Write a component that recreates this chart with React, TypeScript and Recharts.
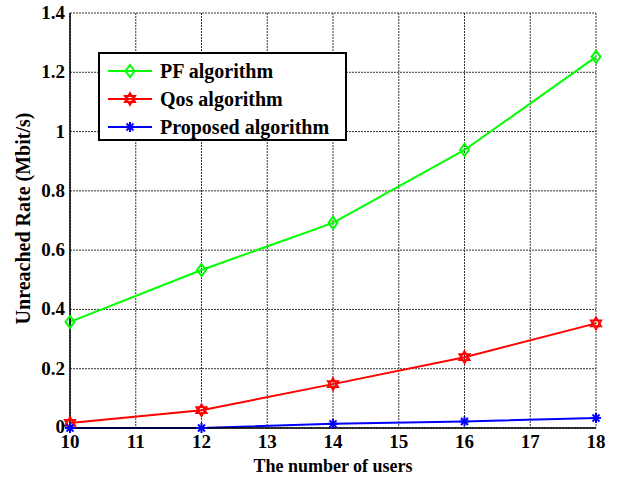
import React from 'react';
import {
  LineChart, Line, XAxis, YAxis, CartesianGrid
} from 'recharts';

// valores
const users = [10, 12, 14, 16, 18];
const pfRate = [0.358, 0.533, 0.692, 0.938, 1.252];
const qosRate = [0.017, 0.06, 0.148, 0.239, 0.353];
const proposedRate = [0, 0, 0.014, 0.022, 0.034];

const xTicks = [10, 11, 12, 13, 14, 15, 16, 17, 18];
const yTicks = [0, 0.2, 0.4, 0.6, 0.8, 1, 1.2, 1.4];

const seriesNames = ['PF algorithm', 'Qos algorithm', 'Proposed algorithm'];

const COLORS = {
  pf: '#00FF00',
  qos: '#FF0000',
  proposed: '#0000FF'
};

const FONT = '"Liberation Serif", "Times New Roman", serif';

const data = users.map((u, i) => ({
  users: u,
  pf: pfRate[i],
  qos: qosRate[i],
  proposed: proposedRate[i]
}));

// Marcadores estilo MATLAB
const Diamond = ({ cx, cy, color }: any) => (
  <polygon
    points={`${cx},${cy - 6} ${cx + 4.5},${cy} ${cx},${cy + 6} ${cx - 4.5},${cy}`}
    fill="none" stroke={color} strokeWidth={2}
  />
);

const Hexagram = ({ cx, cy, color }: any) => {
  const r = 6;
  const tri = (start: number) => [0, 120, 240].map(a => {
    const rad = ((start + a) * Math.PI) / 180;
    return `${cx + r * Math.cos(rad)},${cy + r * Math.sin(rad)}`;
  }).join(' ');
  return (
    <g>
      <polygon points={tri(-90)} fill="none" stroke={color} strokeWidth={1.8} />
      <polygon points={tri(90)} fill="none" stroke={color} strokeWidth={1.8} />
    </g>
  );
};

const Asterisk = ({ cx, cy, color }: any) => {
  const r = 5;
  const d = r * 0.7;
  return (
    <g stroke={color} strokeWidth={2}>
      <line x1={cx - r} y1={cy} x2={cx + r} y2={cy} />
      <line x1={cx} y1={cy - r} x2={cx} y2={cy + r} />
      <line x1={cx - d} y1={cy - d} x2={cx + d} y2={cy + d} />
      <line x1={cx - d} y1={cy + d} x2={cx + d} y2={cy - d} />
    </g>
  );
};

const MARKERS = [Diamond, Hexagram, Asterisk];
const LEGEND_COLORS = [COLORS.pf, COLORS.qos, COLORS.proposed];

const dotFor = (Shape: any, color: string) => (props: any) => {
  const { cx, cy, index } = props;
  if (cx == null || cy == null) return <g key={index} />;
  return <Shape key={index} cx={cx} cy={cy} color={color} />;
};

const fmt = (v: number) => String(Number(v.toFixed(1)));

// ticks personalizados: Times en negrita
const XTick = ({ x, y, payload }: any) => (
  <text x={x} y={y} dy={14} textAnchor="middle" fontSize={19} fontWeight={700} fontFamily={FONT} fill="#000">
    {payload.value}
  </text>
);

const YTick = ({ x, y, payload }: any) => (
  <text x={x} y={y} dy={payload.value === 0 ? 5 : 6} textAnchor="end" fontSize={19} fontWeight={700} fontFamily={FONT} fill="#000">
    {fmt(Number(payload.value))}
  </text>
);

const App: React.FC = () => {
  return (
    <div style={{ position: 'absolute', left: 0, top: 0, width: 617, height: 480, background: '#fff' }}>
      <LineChart width={617} height={480} data={data} margin={{ top: 13, right: 21, left: 0, bottom: 0 }}>
        <CartesianGrid stroke="#333" strokeDasharray="2 1" strokeWidth={1} />

        <XAxis
          dataKey="users"
          type="number"
          domain={[10, 18]}
          ticks={xTicks}
          interval={0}
          height={52}
          tickSize={0}
          tickMargin={6}
          axisLine={{ stroke: '#000', strokeWidth: 1.5 }}
          tickLine={false}
          tick={<XTick />}
          label={{ value: 'The number of users', position: 'center', dy: 12, style: { fontSize: 18, fontWeight: 700, fill: '#000', fontFamily: FONT } }}
        />
        <XAxis
          xAxisId="top"
          dataKey="users"
          type="number"
          domain={[10, 18]}
          orientation="top"
          height={0}
          tick={false}
          tickLine={false}
          axisLine={{ stroke: '#000', strokeWidth: 1.5 }}
        />

        <YAxis
          type="number"
          domain={[0, 1.4]}
          ticks={yTicks}
          interval={0}
          width={70}
          tickSize={0}
          tickMargin={5}
          axisLine={{ stroke: '#000', strokeWidth: 1.5 }}
          tickLine={false}
          tick={<YTick />}
          label={{ value: 'Unreached Rate (Mbit/s)', angle: -90, position: 'center', dx: -12, dy: -2, style: { fontSize: 20, fontWeight: 700, fill: '#000', fontFamily: FONT, textAnchor: 'middle' } }}
        />
        <YAxis
          yAxisId="right"
          orientation="right"
          type="number"
          domain={[0, 1.4]}
          width={0}
          tick={false}
          tickLine={false}
          axisLine={{ stroke: '#000', strokeWidth: 1.5 }}
        />

        <Line type="linear" dataKey="pf" stroke={COLORS.pf} strokeWidth={2} dot={dotFor(Diamond, COLORS.pf)} isAnimationActive={false} />
        <Line type="linear" dataKey="qos" stroke={COLORS.qos} strokeWidth={2} dot={dotFor(Hexagram, COLORS.qos)} isAnimationActive={false} />
        <Line type="linear" dataKey="proposed" stroke={COLORS.proposed} strokeWidth={2} dot={dotFor(Asterisk, COLORS.proposed)} isAnimationActive={false} />
      </LineChart>

      {/* Leyenda dentro del área del gráfico */}
      <div style={{
        position: 'absolute', left: 98, top: 52, width: 249, height: 89, boxSizing: 'border-box',
        border: '2px solid #000', background: '#fff', paddingTop: 3
      }}>
        {seriesNames.map((name, i) => {
          const Shape = MARKERS[i];
          return (
            <div key={name} style={{ display: 'flex', alignItems: 'center', height: 28 }}>
              <svg width={52} height={20} style={{ marginLeft: 8, flexShrink: 0 }}>
                <line x1={0} y1={10} x2={44} y2={10} stroke={LEGEND_COLORS[i]} strokeWidth={2} />
                <Shape cx={22} cy={10} color={LEGEND_COLORS[i]} />
              </svg>
              <span style={{ fontFamily: FONT, fontWeight: 700, fontSize: 20, color: '#000', whiteSpace: 'nowrap', lineHeight: '28px' }}>{name}</span>
            </div>
          );
        })}
      </div>
    </div>
  );
};

export default App;
